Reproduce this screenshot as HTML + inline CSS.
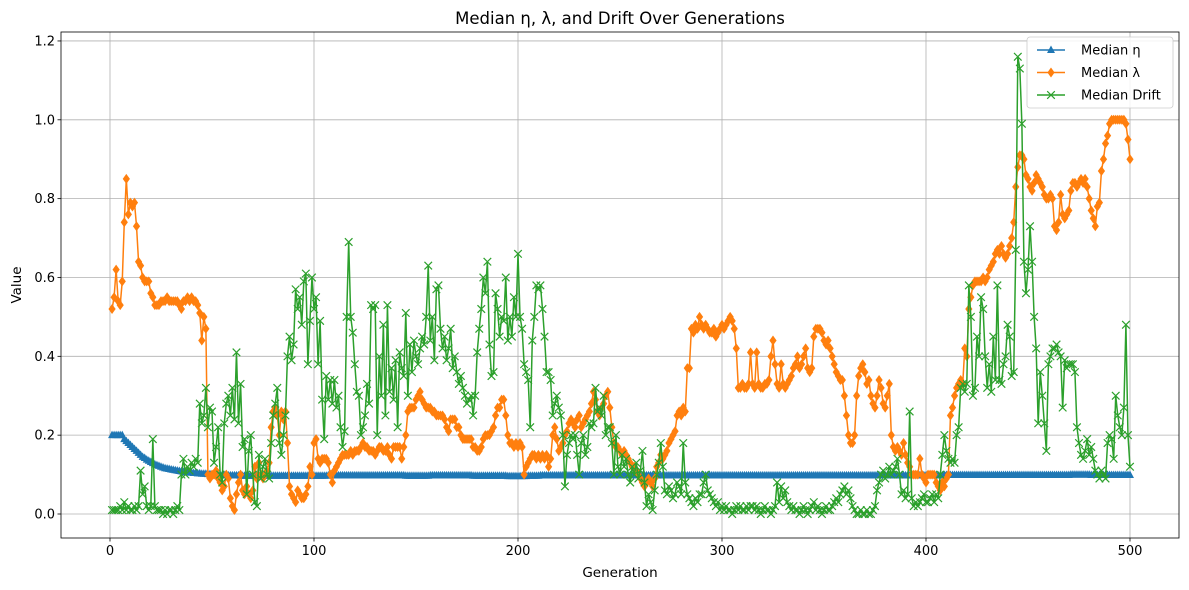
<!DOCTYPE html>
<html><head><meta charset="utf-8"><style>
html,body{margin:0;padding:0;background:#fff;}
svg{display:block;font-family:"DejaVu Sans","Liberation Sans",sans-serif;}
</style></head><body>
<svg id="chart" width="1189" height="590" viewBox="0 0 1189 590" xmlns="http://www.w3.org/2000/svg">
<rect width="1189" height="590" fill="#fff"/>
<g id="grid"></g>
<g id="series"></g>
<rect x="61" y="32" width="1118" height="506" fill="none" stroke="#000" stroke-width="0.8"/>
<g id="axes"></g>
<text x="620" y="24" font-size="16.5" text-anchor="middle">Median η, λ, and Drift Over Generations</text>
<text x="620" y="577" font-size="13.5" text-anchor="middle">Generation</text>
<text x="21" y="285" font-size="13.5" text-anchor="middle" transform="rotate(-90 21 285)">Value</text>
<g id="legend">
<rect x="1027" y="37" width="146" height="71" rx="3" fill="#fff" fill-opacity="0.85" stroke="#ccc" stroke-width="0.8"/>
</g>
</svg>
<script>
const xTicks=[0,100,200,300,400,500];
const yTicks=[0.0,0.2,0.4,0.6,0.8,1.0,1.2];
const seriesNames=["Median η","Median λ","Median Drift"];
const eta=[.20,.20,.20,.20,.20,.20,.19,.185,.18,.175,
.17,.165,.16,.155,.15,.145,.142,.138,.135,.132,
.129,.126,.124,.122,.12,.118,.116,.115,.114,.113,
.112,.111,.11,.109,.108,.107,.106,.106,.105,.105,
.104,.104,.103,.103,.102,.102,.102,.101,.101,.100,
.100,.100,.099,.099,.099,.099,.098,.098,.098,.098,
.098,.098,.098,.097,.097,.097,.097,.097,.097,.097,
.097,.097,.097,.097,.097,.097,.097,.097,.097,.097,
.097,.097,.097,.097,.097,.097,.097,.097,.097,.097,
.097,.097,.097,.097,.097,.097,.097,.097,.097,.097,
.097,.097,.097,.097,.097,.097,.098,.098,.098,.098,
.098,.098,.098,.098,.098,.098,.098,.098,.098,.098,
.098,.098,.098,.098,.098,.098,.098,.098,.098,.098,
.098,.098,.098,.098,.098,.098,.098,.098,.098,.098,
.098,.098,.098,.098,.097,.097,.097,.097,.097,.097,
.097,.097,.097,.097,.097,.097,.098,.098,.098,.098,
.098,.098,.098,.098,.098,.098,.098,.098,.098,.098,
.098,.098,.098,.098,.098,.098,.098,.097,.097,.097,
.097,.097,.097,.097,.097,.097,.097,.097,.097,.097,
.097,.097,.097,.097,.096,.096,.096,.096,.096,.096,
.096,.096,.096,.096,.097,.097,.097,.097,.097,.097,
.098,.098,.098,.098,.098,.098,.098,.098,.098,.098,
.098,.098,.098,.098,.098,.098,.098,.098,.098,.098,
.098,.098,.098,.098,.098,.098,.098,.098,.098,.098,
.098,.098,.098,.098,.098,.098,.098,.098,.098,.098,
.098,.098,.098,.098,.098,.098,.098,.098,.098,.098,
.098,.098,.098,.098,.098,.098,.098,.098,.098,.098,
.098,.098,.098,.098,.098,.098,.098,.098,.098,.098,
.098,.098,.098,.098,.098,.098,.098,.098,.098,.098,
.098,.098,.098,.098,.098,.098,.098,.098,.098,.098,
.098,.098,.098,.098,.098,.098,.098,.098,.098,.098,
.098,.098,.098,.098,.098,.098,.098,.098,.098,.098,
.098,.098,.098,.098,.098,.098,.098,.098,.098,.098,
.098,.098,.098,.098,.098,.098,.098,.098,.098,.098,
.098,.098,.098,.098,.098,.098,.098,.098,.098,.098,
.098,.098,.098,.098,.098,.098,.098,.098,.098,.098,
.098,.098,.098,.098,.098,.098,.098,.098,.098,.098,
.098,.098,.098,.098,.098,.098,.098,.098,.098,.098,
.098,.098,.098,.098,.098,.098,.098,.098,.098,.098,
.098,.098,.098,.098,.098,.098,.098,.098,.098,.098,
.098,.098,.098,.098,.098,.098,.098,.098,.099,.099,
.099,.099,.099,.099,.099,.099,.099,.099,.099,.099,
.099,.099,.099,.099,.099,.099,.099,.099,.099,.099,
.099,.099,.099,.099,.099,.099,.099,.099,.099,.099,
.099,.099,.099,.099,.099,.099,.099,.099,.099,.099,
.099,.099,.099,.099,.099,.099,.099,.099,.099,.099,
.099,.099,.099,.099,.099,.099,.099,.099,.099,.099,
.100,.100,.100,.100,.100,.100,.100,.100,.100,.100,
.099,.099,.099,.099,.099,.099,.099,.099,.099,.099,
.099,.099,.099,.099,.099,.099,.099,.099,.099,.099];
const lambda=[.52,.55,.62,.54,.53,.59,.74,.85,.76,.79,
.78,.79,.73,.64,.63,.60,.59,.59,.59,.56,
.55,.53,.53,.53,.54,.54,.54,.55,.54,.54,
.54,.54,.54,.53,.52,.54,.54,.55,.54,.55,
.54,.54,.53,.51,.44,.50,.47,.10,.09,.10,
.10,.11,.09,.08,.06,.07,.10,.09,.04,.02,
.01,.05,.08,.10,.06,.05,.07,.05,.04,.06,
.12,.09,.13,.10,.09,.10,.11,.13,.22,.26,
.27,.25,.20,.26,.24,.26,.18,.07,.05,.04,
.03,.06,.05,.04,.04,.05,.07,.12,.10,.18,
.19,.14,.13,.14,.14,.14,.13,.10,.08,.11,
.12,.13,.14,.15,.15,.15,.15,.16,.15,.16,
.16,.16,.17,.18,.17,.17,.16,.16,.16,.15,
.16,.17,.17,.16,.16,.17,.15,.14,.17,.17,
.17,.17,.14,.17,.20,.26,.27,.27,.27,.29,
.30,.31,.29,.28,.27,.27,.27,.26,.26,.25,
.25,.25,.25,.24,.22,.21,.24,.24,.24,.22,
.22,.20,.19,.19,.19,.19,.19,.17,.17,.16,
.16,.17,.19,.20,.20,.20,.21,.22,.25,.27,
.27,.29,.29,.25,.20,.18,.18,.17,.18,.17,
.18,.17,.10,.12,.13,.14,.15,.15,.14,.15,
.14,.15,.14,.15,.12,.14,.20,.22,.19,.16,
.17,.18,.20,.21,.23,.24,.23,.22,.24,.25,
.22,.23,.24,.25,.26,.28,.31,.29,.26,.25,
.27,.28,.30,.31,.27,.22,.18,.17,.17,.16,
.15,.16,.15,.14,.13,.12,.12,.11,.10,.09,
.08,.07,.08,.09,.08,.07,.09,.12,.13,.15,
.14,.15,.16,.18,.19,.20,.21,.25,.26,.25,
.27,.26,.37,.37,.47,.46,.48,.47,.50,.48,
.47,.48,.47,.46,.46,.47,.45,.46,.47,.48,
.47,.48,.49,.50,.49,.47,.42,.32,.32,.33,
.32,.32,.33,.41,.33,.32,.41,.33,.32,.32,
.33,.33,.34,.40,.44,.38,.33,.32,.38,.33,
.32,.33,.34,.35,.37,.38,.40,.37,.38,.40,
.42,.37,.36,.37,.45,.47,.47,.47,.46,.44,
.43,.44,.42,.40,.38,.36,.35,.34,.34,.30,
.25,.20,.18,.18,.20,.30,.35,.37,.38,.36,
.33,.34,.30,.28,.27,.30,.34,.32,.28,.27,
.30,.33,.20,.17,.16,.17,.16,.15,.18,.15,
.13,.12,.10,.10,.10,.10,.14,.10,.09,.08,
.10,.10,.10,.10,.08,.07,.06,.08,.07,.09,
.10,.25,.27,.30,.32,.33,.34,.33,.42,.40,
.52,.55,.58,.59,.59,.59,.59,.60,.59,.60,
.62,.63,.64,.66,.67,.66,.68,.66,.65,.66,
.68,.70,.74,.83,.88,.91,.91,.90,.86,.85,
.83,.82,.84,.86,.85,.84,.83,.81,.80,.80,
.81,.80,.73,.72,.74,.81,.76,.75,.76,.77,
.82,.84,.84,.83,.84,.85,.84,.85,.83,.80,
.77,.75,.73,.78,.79,.87,.90,.94,.96,.99,
1.0,1.0,1.0,1.0,1.0,1.0,1.0,.99,.95,.90];
const drift=[.01,.01,.01,.01,.02,.01,.03,.01,.02,.01,
.01,.02,.01,.02,.11,.05,.07,.02,.01,.02,
.19,.02,.01,.01,.01,.00,.01,.00,.01,.01,
.00,.01,.02,.01,.10,.14,.10,.12,.11,.13,
.12,.14,.13,.28,.23,.25,.32,.22,.27,.26,
.13,.17,.22,.10,.08,.23,.28,.30,.25,.32,
.24,.41,.23,.33,.17,.19,.05,.16,.20,.10,
.03,.02,.15,.09,.12,.14,.10,.09,.18,.25,
.28,.32,.18,.15,.20,.25,.40,.45,.39,.43,
.57,.52,.55,.48,.59,.61,.38,.49,.60,.52,
.55,.38,.49,.29,.19,.35,.29,.34,.28,.34,
.27,.30,.22,.17,.21,.50,.69,.50,.46,.38,
.31,.30,.20,.22,.25,.33,.28,.53,.52,.53,
.20,.40,.30,.48,.25,.53,.31,.37,.29,.39,
.22,.41,.37,.35,.51,.30,.43,.36,.44,.40,
.38,.42,.45,.43,.50,.63,.44,.50,.39,.57,
.58,.47,.42,.45,.39,.42,.47,.37,.40,.36,
.33,.35,.32,.30,.28,.29,.30,.25,.30,.41,
.47,.52,.60,.56,.64,.43,.35,.36,.56,.52,
.45,.50,.49,.60,.44,.50,.45,.55,.50,.66,
.50,.47,.38,.36,.34,.22,.44,.50,.58,.57,
.58,.52,.45,.36,.36,.34,.25,.28,.30,.27,
.25,.20,.07,.15,.18,.20,.19,.20,.15,.10,
.18,.20,.15,.17,.23,.22,.23,.32,.26,.27,
.25,.30,.20,.22,.22,.18,.10,.20,.12,.10,
.15,.12,.14,.10,.08,.12,.10,.13,.09,.11,
.16,.08,.02,.05,.03,.01,.06,.10,.13,.18,
.12,.06,.05,.07,.06,.04,.05,.08,.07,.05,
.18,.08,.05,.04,.03,.02,.04,.03,.05,.05,
.08,.10,.06,.05,.04,.03,.02,.03,.01,.02,
.01,.02,.01,.01,.00,.01,.02,.01,.02,.01,
.01,.02,.01,.02,.02,.01,.02,.01,.00,.01,
.02,.01,.01,.00,.01,.02,.08,.03,.07,.04,
.06,.03,.02,.01,.02,.01,.01,.00,.01,.02,
.01,.00,.01,.02,.03,.01,.02,.01,.00,.01,
.02,.01,.01,.02,.03,.04,.03,.05,.06,.07,
.05,.06,.04,.02,.01,.00,.00,.01,.00,.00,
.01,.00,.00,.01,.02,.06,.08,.10,.11,.09,
.10,.12,.10,.11,.12,.14,.10,.05,.06,.04,
.05,.26,.04,.02,.03,.02,.03,.04,.05,.03,
.03,.04,.05,.03,.05,.04,.10,.15,.20,.16,
.14,.13,.14,.13,.20,.22,.32,.33,.31,.33,
.58,.50,.30,.32,.45,.40,.55,.52,.40,.32,
.38,.31,.45,.34,.58,.34,.33,.38,.40,.48,
.45,.35,.36,.67,1.16,1.13,.99,.64,.56,.62,
.73,.64,.50,.42,.23,.36,.30,.23,.16,.38,
.40,.42,.42,.43,.41,.40,.27,.39,.37,.38,
.38,.38,.36,.22,.18,.15,.14,.16,.19,.15,
.17,.14,.11,.10,.09,.11,.10,.09,.18,.20,
.19,.14,.30,.25,.22,.20,.27,.48,.20,.12];

const NS="http://www.w3.org/2000/svg";
const X0=61,X1=1179,Y0=32,Y1=538;
function xs(g){return 110+2.04*g;}
function ys(v){return 514-394.2*v;}
function mk(tag,attrs,parent){const e=document.createElementNS(NS,tag);for(const k in attrs)e.setAttribute(k,attrs[k]);parent.appendChild(e);return e;}
const grid=document.getElementById('grid'),axes=document.getElementById('axes'),ser=document.getElementById('series');
xTicks.forEach(t=>{
  const gl=mk('line',{x1:xs(t),x2:xs(t),y1:Y0,y2:Y1,stroke:'#b0b0b0','stroke-width':0.8},grid);
  
  
  mk('line',{x1:xs(t),x2:xs(t),y1:Y1,y2:Y1+3.5,stroke:'#000','stroke-width':0.8},axes);
  const tx=mk('text',{x:xs(t),y:Y1+17,'font-size':13,'text-anchor':'middle'},axes);
  tx.textContent=String(t);
  
  
});
yTicks.forEach(t=>{
  const gl=mk('line',{x1:X0,x2:X1,y1:ys(t),y2:ys(t),stroke:'#b0b0b0','stroke-width':0.8},grid);
  
  
  mk('line',{x1:X0-3.5,x2:X0,y1:ys(t),y2:ys(t),stroke:'#000','stroke-width':0.8},axes);
  const tx=mk('text',{x:X0-6,y:ys(t)+4.5,'font-size':13,'text-anchor':'end'},axes);
  tx.textContent=t.toFixed(1);
  
  
});
const colors=['#1f77b4','#ff7f0e','#2ca02c'];
function marker(kind,cx,cy,c,parent){
  if(kind===0){mk('path',{d:`M${cx},${cy-4.5}L${cx+4},${cy+3}L${cx-4},${cy+3}Z`,fill:c},parent);}
  else if(kind===1){mk('path',{d:`M${cx},${cy-5}L${cx+3.6},${cy}L${cx},${cy+5}L${cx-3.6},${cy}Z`,fill:c},parent);}
  else{mk('path',{d:`M${cx-3.8},${cy-3.8}L${cx+3.8},${cy+3.8}M${cx-3.8},${cy+3.8}L${cx+3.8},${cy-3.8}`,stroke:c,'stroke-width':1.2,fill:'none'},parent);}
}
[eta,lambda,drift].forEach((arr,si)=>{
  const g=mk('g',{},ser);
  
  
  const pts=arr.map((v,i)=>xs(i+1).toFixed(2)+','+ys(v).toFixed(2)).join(' ');
  const pl=mk('polyline',{points:pts,fill:'none',stroke:colors[si],'stroke-width':1.5,'stroke-linejoin':'round'},g);
  
  
  arr.forEach((v,i)=>marker(si,xs(i+1),ys(v),colors[si],g));
});
const lg=document.getElementById('legend');
seriesNames.forEach((n,i)=>{
  const yy=50+22.5*i;
  const g=mk('g',{},lg);
  
  
  mk('line',{x1:1037,x2:1065,y1:yy,y2:yy,stroke:colors[i],'stroke-width':1.5},g);
  marker(i,1051,yy,colors[i],g);
  const t=mk('text',{x:1081,y:yy+4.5,'font-size':13},g);
  t.textContent=n;
});
</script>
</body></html>
